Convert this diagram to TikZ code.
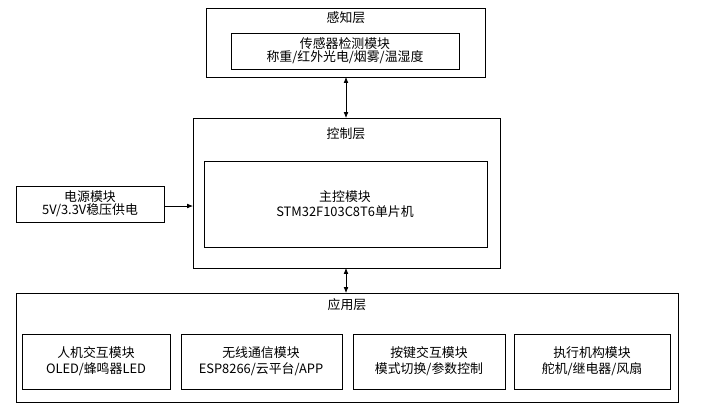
\documentclass[tikz,border=0pt]{standalone}
\usepackage{fontspec}
\setmainfont{Noto Sans CJK SC}
\usetikzlibrary{arrows.meta}

\begin{document}
\begin{tikzpicture}[
    x=0.03cm, y=-0.03cm,
    box/.style={draw, rectangle, line width=0.6pt},
    label/.style={font=\fontsize{11}{13}\selectfont, align=center},
    arrow/.style={-{Latex[length=5pt,width=4pt]}, line width=0.6pt},
    darrow/.style={{Latex[length=5pt,width=4pt]}-{Latex[length=5pt,width=4pt]}, line width=0.6pt}
]
\useasboundingbox (0,0) rectangle (714,409);

% 感知层
\draw[box] (206,8) rectangle (485,77);
\coordinate (senseT) at (346,77);
\node[label] at (346,18) {感知层};
\draw[box] (231,33) rectangle (459,69);
\node[label] (sensor) at (345,51) {传感器检测模块\\[-2pt]称重/红外光电/烟雾/温湿度};

% 控制层
\draw[box] (193,118) rectangle (500,268);
\coordinate (ctrlT) at (346,118);
\coordinate (ctrlB) at (346,268);
\coordinate (ctrlL) at (193,206);
\node[label] at (346,134) {控制层};
\draw[box] (204,161) rectangle (487,247);
\node[label] (mcu) at (345,204) {主控模块\\[0pt]STM32F103C8T6单片机};

% 电源
\draw[box] (16,186) rectangle (164,222);
\coordinate (powerR) at (164,206);
\node[label] (power) at (90,204) {电源模块\\[-2pt]5V/3.3V稳压供电};

% 应用层
\draw[box] (16,293) rectangle (678,402);
\coordinate (appT) at (346,293);
\node[label] at (347,305) {应用层};
\draw[box] (22,334) rectangle (170,389);
\node[label] (hmi) at (96,361) {人机交互模块\\[1pt]OLED/蜂鸣器LED};
\draw[box] (181,334) rectangle (342,389);
\node[label] (wifi) at (261,361) {无线通信模块\\[1pt]ESP8266/云平台/APP};
\draw[box] (353,334) rectangle (505,389);
\node[label] (keys) at (429,361) {按键交互模块\\[1pt]模式切换/参数控制};
\draw[box] (514,334) rectangle (670,389);
\node[label] (act) at (592,361) {执行机构模块\\[1pt]舵机/继电器/风扇};

% 连接线
\draw[darrow] (senseT) -- (ctrlT);
\draw[darrow] (ctrlB) -- (appT);
\draw[arrow] (powerR) -- (ctrlL);
\end{tikzpicture}
\end{document}
